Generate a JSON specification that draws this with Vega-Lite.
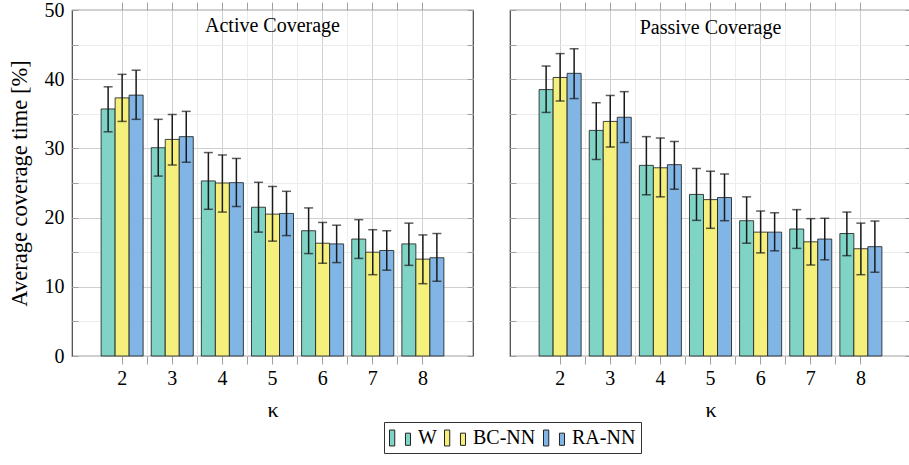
{
  "$schema": "https://vega.github.io/schema/vega-lite/v6.json",
  "padding": {"left": 7, "top": -1, "right": 3, "bottom": 3},
  "spacing": 33,
  "config": {
    "view": {"stroke": "#444444", "strokeWidth": 1.2},
    "axis": {"domain": false, "tickColor": "#a0a0a0", "tickWidth": 1, "gridColor": "#d0d0d0", "gridWidth": 1, "minExtent": 0},
    "legend": {
      "orient": "none", "legendX": 312, "legendY": 412, "direction": "horizontal",
      "strokeColor": "#333333", "strokeWidth": 1, "padding": 5,
      "symbolType": "M-1,-0.76H-0.5V0.76H-1Z M0.52,-0.46H1V0.7H0.52Z",
      "symbolSize": 441, "symbolStrokeColor": "#222222", "symbolStrokeWidth": 1, "symbolOpacity": 1,
      "labelFont": "Liberation Serif", "labelFontSize": 20, "labelColor": "#000000",
      "labelOffset": 7, "columnPadding": 5
    }
  },
  "data": {"values": [
    {"panel": "Active", "k": 2, "series": "W", "mean": 35.7, "lo": 32.4, "hi": 38.9},
    {"panel": "Active", "k": 2, "series": "BC-NN", "mean": 37.3, "lo": 33.9, "hi": 40.7},
    {"panel": "Active", "k": 2, "series": "RA-NN", "mean": 37.7, "lo": 34.2, "hi": 41.3},
    {"panel": "Active", "k": 3, "series": "W", "mean": 30.1, "lo": 26.0, "hi": 34.2},
    {"panel": "Active", "k": 3, "series": "BC-NN", "mean": 31.3, "lo": 27.6, "hi": 34.9},
    {"panel": "Active", "k": 3, "series": "RA-NN", "mean": 31.7, "lo": 28.0, "hi": 35.35},
    {"panel": "Active", "k": 4, "series": "W", "mean": 25.3, "lo": 21.2, "hi": 29.4},
    {"panel": "Active", "k": 4, "series": "BC-NN", "mean": 25.0, "lo": 20.8, "hi": 29.05},
    {"panel": "Active", "k": 4, "series": "RA-NN", "mean": 25.05, "lo": 21.6, "hi": 28.55},
    {"panel": "Active", "k": 5, "series": "W", "mean": 21.5, "lo": 17.9, "hi": 25.1},
    {"panel": "Active", "k": 5, "series": "BC-NN", "mean": 20.5, "lo": 16.6, "hi": 24.5},
    {"panel": "Active", "k": 5, "series": "RA-NN", "mean": 20.6, "lo": 17.4, "hi": 23.8},
    {"panel": "Active", "k": 6, "series": "W", "mean": 18.1, "lo": 14.8, "hi": 21.4},
    {"panel": "Active", "k": 6, "series": "BC-NN", "mean": 16.3, "lo": 13.4, "hi": 19.3},
    {"panel": "Active", "k": 6, "series": "RA-NN", "mean": 16.2, "lo": 13.5, "hi": 18.9},
    {"panel": "Active", "k": 7, "series": "W", "mean": 16.9, "lo": 14.1, "hi": 19.7},
    {"panel": "Active", "k": 7, "series": "BC-NN", "mean": 15.0, "lo": 11.75, "hi": 18.25},
    {"panel": "Active", "k": 7, "series": "RA-NN", "mean": 15.25, "lo": 12.4, "hi": 18.1},
    {"panel": "Active", "k": 8, "series": "W", "mean": 16.2, "lo": 13.1, "hi": 19.2},
    {"panel": "Active", "k": 8, "series": "BC-NN", "mean": 14.0, "lo": 10.45, "hi": 17.5},
    {"panel": "Active", "k": 8, "series": "RA-NN", "mean": 14.2, "lo": 10.8, "hi": 17.7},
    {"panel": "Passive", "k": 2, "series": "W", "mean": 38.5, "lo": 35.2, "hi": 41.9},
    {"panel": "Passive", "k": 2, "series": "BC-NN", "mean": 40.25, "lo": 36.85, "hi": 43.7},
    {"panel": "Passive", "k": 2, "series": "RA-NN", "mean": 40.85, "lo": 37.2, "hi": 44.4},
    {"panel": "Passive", "k": 3, "series": "W", "mean": 32.6, "lo": 28.4, "hi": 36.6},
    {"panel": "Passive", "k": 3, "series": "BC-NN", "mean": 33.9, "lo": 30.2, "hi": 37.65},
    {"panel": "Passive", "k": 3, "series": "RA-NN", "mean": 34.5, "lo": 30.85, "hi": 38.2},
    {"panel": "Passive", "k": 4, "series": "W", "mean": 27.55, "lo": 23.3, "hi": 31.7},
    {"panel": "Passive", "k": 4, "series": "BC-NN", "mean": 27.2, "lo": 23.0, "hi": 31.5},
    {"panel": "Passive", "k": 4, "series": "RA-NN", "mean": 27.65, "lo": 24.1, "hi": 31.0},
    {"panel": "Passive", "k": 5, "series": "W", "mean": 23.35, "lo": 19.6, "hi": 27.1},
    {"panel": "Passive", "k": 5, "series": "BC-NN", "mean": 22.6, "lo": 18.45, "hi": 26.7},
    {"panel": "Passive", "k": 5, "series": "RA-NN", "mean": 22.9, "lo": 19.55, "hi": 26.3},
    {"panel": "Passive", "k": 6, "series": "W", "mean": 19.55, "lo": 16.3, "hi": 23.0},
    {"panel": "Passive", "k": 6, "series": "BC-NN", "mean": 17.9, "lo": 14.9, "hi": 20.95},
    {"panel": "Passive", "k": 6, "series": "RA-NN", "mean": 17.9, "lo": 15.2, "hi": 20.7},
    {"panel": "Passive", "k": 7, "series": "W", "mean": 18.35, "lo": 15.55, "hi": 21.15},
    {"panel": "Passive", "k": 7, "series": "BC-NN", "mean": 16.5, "lo": 13.15, "hi": 19.85},
    {"panel": "Passive", "k": 7, "series": "RA-NN", "mean": 16.9, "lo": 13.9, "hi": 19.9},
    {"panel": "Passive", "k": 8, "series": "W", "mean": 17.7, "lo": 14.5, "hi": 20.8},
    {"panel": "Passive", "k": 8, "series": "BC-NN", "mean": 15.5, "lo": 11.75, "hi": 19.2},
    {"panel": "Passive", "k": 8, "series": "RA-NN", "mean": 15.8, "lo": 12.1, "hi": 19.5}
  ]},
  "hconcat": [
    {
      "width": 401, "height": 346,
      "title": {"text": "Active Coverage", "fontSize": 20, "font": "Liberation Serif", "fontWeight": "normal", "offset": -52, "baseline": "alphabetic", "anchor": "middle", "color": "#000000"},
      "transform": [{"filter": "datum.panel === 'Active'"}],
      "resolve": {"axis": {"x": "independent", "y": "independent"}},
      "layer": [
        {
          "mark": {"type": "bar", "stroke": "#222222", "strokeWidth": 1, "strokeOpacity": 0.85},
          "encoding": {
            "x": {"field": "k", "type": "ordinal", "scale": {"paddingInner": 0, "paddingOuter": 0.5},
              "axis": {"orient": "bottom", "title": "κ", "labelAngle": 0, "grid": true, "ticks": true, "tickSize": 8, "labelPadding": 4, "titlePadding": 11,
                "labelFont": "Liberation Serif", "labelFontSize": 20, "labelColor": "#000000", "titleFont": "Liberation Serif", "titleFontSize": 22, "titleFontWeight": "normal", "titleColor": "#000000"}},
            "xOffset": {"field": "series", "type": "nominal", "sort": ["W", "BC-NN", "RA-NN"], "scale": {"paddingInner": 0, "paddingOuter": 0.29}},
            "y": {"field": "mean", "type": "quantitative", "scale": {"domain": [0, 50]},
              "axis": {"orient": "left", "title": "Average coverage time [%]", "values": [0, 10, 20, 30, 40, 50], "grid": true, "ticks": false, "labelPadding": 8, "titlePadding": 13,
                "labelFont": "Liberation Serif", "labelFontSize": 20, "labelColor": "#000000", "titleFont": "Liberation Serif", "titleFontSize": 22.5, "titleFontWeight": "normal", "titleColor": "#000000"}},
            "color": {"field": "series", "type": "nominal", "sort": ["W", "BC-NN", "RA-NN"],
              "scale": {"domain": ["W", "BC-NN", "RA-NN"], "range": ["#80d4c6", "#f5f07c", "#80b5e5"]},
              "legend": {"title": null}}
          }
        },
        {
          "mark": {"type": "rule", "color": "#1a1a1a", "strokeWidth": 1.5},
          "encoding": {
            "x": {"field": "k", "type": "ordinal",
              "axis": {"orient": "bottom", "title": null, "labels": false, "grid": true, "gridColor": "#ececec", "ticks": true, "tickSize": 8, "bandPosition": 1, "tickExtra": false, "values": [2, 3, 4, 5, 6, 7]}},
            "xOffset": {"field": "series", "type": "nominal", "sort": ["W", "BC-NN", "RA-NN"]},
            "y": {"field": "lo", "type": "quantitative",
              "axis": {"orient": "left", "title": null, "labels": false, "grid": false, "ticks": true, "tickSize": -6, "values": [0, 5, 10, 15, 20, 25, 30, 35, 40, 45, 50]}},
            "y2": {"field": "hi"}
          }
        },
        {
          "mark": {"type": "tick", "orient": "horizontal", "size": 9, "thickness": 1.5, "color": "#1a1a1a"},
          "encoding": {
            "x": {"field": "k", "type": "ordinal",
              "axis": {"orient": "top", "title": null, "labels": false, "grid": false, "ticks": true, "tickSize": 8}},
            "xOffset": {"field": "series", "type": "nominal", "sort": ["W", "BC-NN", "RA-NN"]},
            "y": {"field": "hi", "type": "quantitative",
              "axis": {"orient": "right", "title": null, "labels": false, "grid": false, "ticks": true, "tickSize": -6, "values": [0, 5, 10, 15, 20, 25, 30, 35, 40, 45, 50]}}
          }
        },
        {
          "mark": {"type": "tick", "orient": "horizontal", "size": 9, "thickness": 1.5, "color": "#1a1a1a"},
          "encoding": {
            "x": {"field": "k", "type": "ordinal",
              "axis": {"orient": "top", "title": null, "labels": false, "grid": false, "ticks": true, "tickSize": 8, "bandPosition": 1, "tickExtra": false, "values": [2, 3, 4, 5, 6, 7]}},
            "xOffset": {"field": "series", "type": "nominal", "sort": ["W", "BC-NN", "RA-NN"]},
            "y": {"field": "lo", "type": "quantitative",
              "axis": {"orient": "left", "title": null, "labels": false, "grid": true, "gridColor": "#ececec", "ticks": false, "values": [5, 15, 25, 35, 45]}}
          }
        }
      ]
    },
    {
      "width": 401, "height": 346,
      "title": {"text": "Passive Coverage", "fontSize": 20, "font": "Liberation Serif", "fontWeight": "normal", "offset": -52, "baseline": "alphabetic", "anchor": "middle", "color": "#000000"},
      "transform": [{"filter": "datum.panel === 'Passive'"}],
      "resolve": {"axis": {"x": "independent", "y": "independent"}},
      "layer": [
        {
          "mark": {"type": "bar", "stroke": "#222222", "strokeWidth": 1, "strokeOpacity": 0.85},
          "encoding": {
            "x": {"field": "k", "type": "ordinal", "scale": {"paddingInner": 0, "paddingOuter": 0.5},
              "axis": {"orient": "bottom", "title": "κ", "labelAngle": 0, "grid": true, "ticks": true, "tickSize": 8, "labelPadding": 4, "titlePadding": 11,
                "labelFont": "Liberation Serif", "labelFontSize": 20, "labelColor": "#000000", "titleFont": "Liberation Serif", "titleFontSize": 22, "titleFontWeight": "normal", "titleColor": "#000000"}},
            "xOffset": {"field": "series", "type": "nominal", "sort": ["W", "BC-NN", "RA-NN"], "scale": {"paddingInner": 0, "paddingOuter": 0.29}},
            "y": {"field": "mean", "type": "quantitative", "scale": {"domain": [0, 50]},
              "axis": {"orient": "left", "title": null, "labels": false, "values": [0, 10, 20, 30, 40, 50], "grid": true, "ticks": false}},
            "color": {"field": "series", "type": "nominal", "sort": ["W", "BC-NN", "RA-NN"],
              "scale": {"domain": ["W", "BC-NN", "RA-NN"], "range": ["#80d4c6", "#f5f07c", "#80b5e5"]},
              "legend": {"title": null}}
          }
        },
        {
          "mark": {"type": "rule", "color": "#1a1a1a", "strokeWidth": 1.5},
          "encoding": {
            "x": {"field": "k", "type": "ordinal",
              "axis": {"orient": "bottom", "title": null, "labels": false, "grid": true, "gridColor": "#ececec", "ticks": true, "tickSize": 8, "bandPosition": 1, "tickExtra": false, "values": [2, 3, 4, 5, 6, 7]}},
            "xOffset": {"field": "series", "type": "nominal", "sort": ["W", "BC-NN", "RA-NN"]},
            "y": {"field": "lo", "type": "quantitative",
              "axis": {"orient": "left", "title": null, "labels": false, "grid": false, "ticks": true, "tickSize": -6, "values": [0, 5, 10, 15, 20, 25, 30, 35, 40, 45, 50]}},
            "y2": {"field": "hi"}
          }
        },
        {
          "mark": {"type": "tick", "orient": "horizontal", "size": 9, "thickness": 1.5, "color": "#1a1a1a"},
          "encoding": {
            "x": {"field": "k", "type": "ordinal",
              "axis": {"orient": "top", "title": null, "labels": false, "grid": false, "ticks": true, "tickSize": 8}},
            "xOffset": {"field": "series", "type": "nominal", "sort": ["W", "BC-NN", "RA-NN"]},
            "y": {"field": "hi", "type": "quantitative",
              "axis": {"orient": "right", "title": null, "labels": false, "grid": false, "ticks": true, "tickSize": -6, "values": [0, 5, 10, 15, 20, 25, 30, 35, 40, 45, 50]}}
          }
        },
        {
          "mark": {"type": "tick", "orient": "horizontal", "size": 9, "thickness": 1.5, "color": "#1a1a1a"},
          "encoding": {
            "x": {"field": "k", "type": "ordinal",
              "axis": {"orient": "top", "title": null, "labels": false, "grid": false, "ticks": true, "tickSize": 8, "bandPosition": 1, "tickExtra": false, "values": [2, 3, 4, 5, 6, 7]}},
            "xOffset": {"field": "series", "type": "nominal", "sort": ["W", "BC-NN", "RA-NN"]},
            "y": {"field": "lo", "type": "quantitative",
              "axis": {"orient": "left", "title": null, "labels": false, "grid": true, "gridColor": "#ececec", "ticks": false, "values": [5, 15, 25, 35, 45]}}
          }
        }
      ]
    }
  ]
}
